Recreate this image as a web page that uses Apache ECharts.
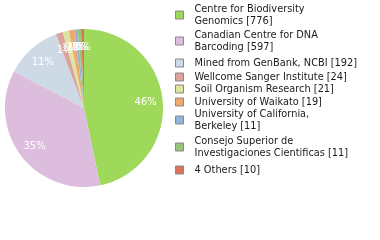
<!DOCTYPE html>
<html><head><meta charset="utf-8">
<script src="https://cdn.jsdelivr.net/npm/echarts@6/dist/echarts.min.js"></script>
<style>html,body{margin:0;padding:0;background:#fff}#c{width:380px;height:240px}</style>
</head><body><div id="c"></div>
<script>
const categories = [
  "Centre for Biodiversity\nGenomics",
  "Canadian Centre for DNA\nBarcoding",
  "Mined from GenBank, NCBI",
  "Wellcome Sanger Institute",
  "Soil Organism Research",
  "University of Waikato",
  "University of California,\nBerkeley",
  "Consejo Superior de\nInvestigaciones Cientificas",
  "4 Others"
];
const values = [776, 597, 192, 24, 21, 19, 11, 11, 10];
const colors = ["#9fd95b","#ddbddd","#cdd9e5","#dba39b","#dde4a0","#eeaa6c","#93b4da","#98c47a","#d9735a"];

// layout: vertical centre of each legend entry (px)
const legendCentres = [14.5, 41, 63.3, 76.7, 89.3, 101.7, 120, 146.5, 169.5];
const LH = 12;

const total = values.reduce((a,b)=>a+b,0);
const data = categories.map((n,i)=>({name:n, value:values[i], itemStyle:{color:colors[i]}}));
const labelData = categories.map((n,i)=>({name:n, value:values[i]}));

const legends = categories.map((n,i)=>{
  const lines = n.split('\n').length;
  return {
    orient:'vertical', left:175, top: Math.round(legendCentres[i] - lines*LH/2),
    padding:0,
    itemWidth:8, itemHeight:8, itemGap:0,
    icon:'rect',
    itemStyle:{borderColor:'#888', borderWidth:1},
    formatter:function(name){ const k=categories.indexOf(name); return name + ' [' + values[k] + ']'; },
    textStyle:{fontFamily:'DejaVu Sans', fontSize:9.8, lineHeight:LH, color:'#1a1a1a', padding:[0,0,0,6]},
    data:[n]
  };
});

const chart = echarts.init(document.getElementById('c'), null, {renderer:'canvas'});
chart.setOption({
  animation:false,
  legend:legends,
  series:[
    {
      type:'pie', center:[84,108], radius:[0,79], startAngle:90, clockwise:true,
      label:{show:false}, labelLine:{show:false}, silent:true,
      data:data
    },
    {
      type:'pie', center:[84,108], radius:[39,79], startAngle:90, clockwise:true,
      silent:true,
      itemStyle:{color:'rgba(0,0,0,0)'},
      label:{show:true, position:'inside', color:'#fff', fontFamily:'DejaVu Sans', fontSize:10,
        offset:[0,1],
        formatter:function(p){ return Math.floor(p.value/total*100) + '%'; }},
      labelLayout:{hideOverlap:false},
      labelLine:{show:false},
      emphasis:{disabled:true},
      data:labelData
    }
  ]
});
</script></body></html>
